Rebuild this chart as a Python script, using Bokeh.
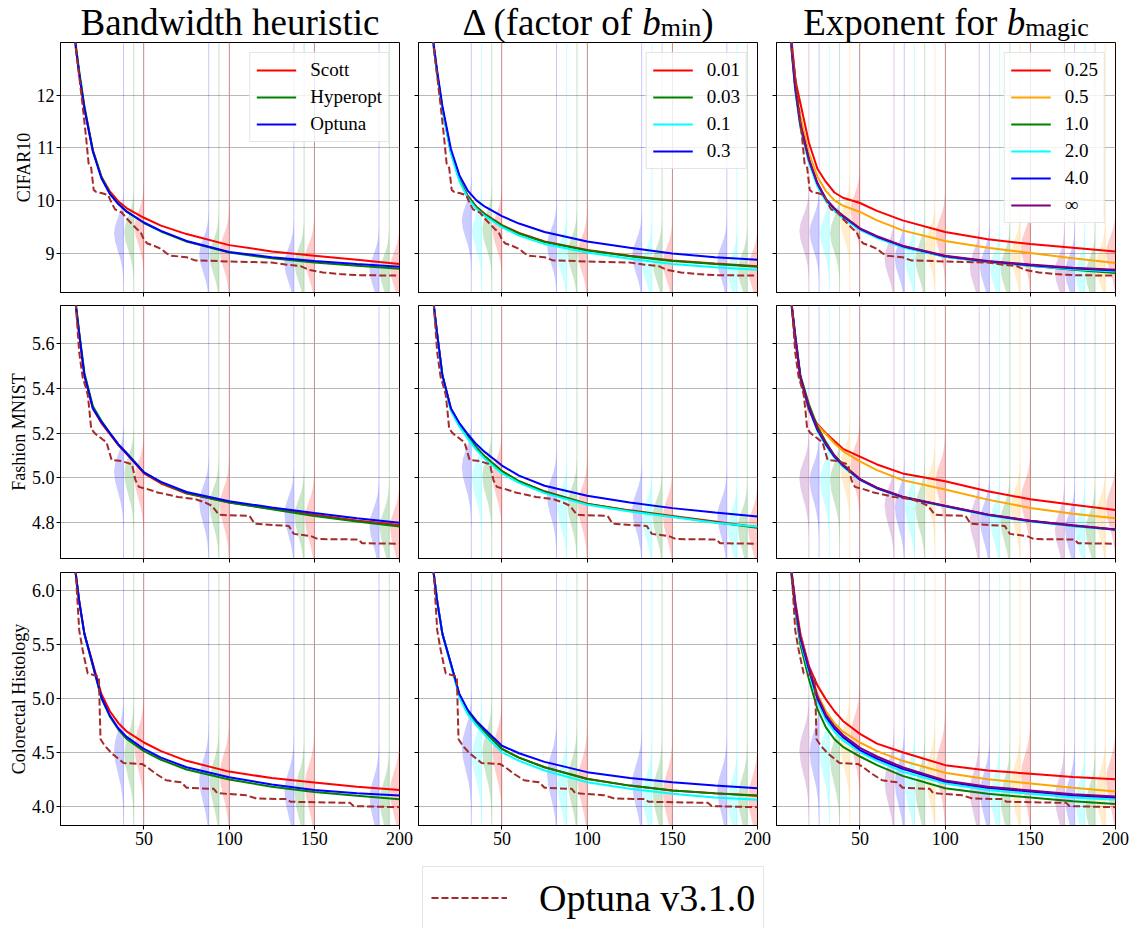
from bokeh.plotting import figure
from bokeh.models import FixedTicker, Legend, LegendItem, Range1d
from bokeh.layouts import column, row
from bokeh.embed import file_html
from bokeh.resources import INLINE
from bokeh.core.properties import value

FONT = "Liberation Serif"

# ---------------- data ----------------
trials = [5, 8, 10, 12, 15, 20, 25, 30, 35, 40, 50, 60, 75, 100, 125, 150, 175, 200]
checkpoints = [50, 100, 150, 200]
x_ticks = [50, 100, 150, 200]
x_tick_labels = ["50", "100", "150", "200"]

datasets = ["CIFAR10", "Fashion MNIST", "Colorectal Histology"]
y_limits = [(8.25, 13.0), (4.64, 5.77), (3.82, 6.167)]
y_ticks = [[9, 10, 11, 12], [4.8, 5.0, 5.2, 5.4, 5.6], [4.0, 4.5, 5.0, 5.5, 6.0]]
y_tick_labels = [["9", "10", "11", "12"], ["4.8", "5.0", "5.2", "5.4", "5.6"],
                 ["4.0", "4.5", "5.0", "5.5", "6.0"]]

bandwidth_labels = ["Scott", "Hyperopt", "Optuna"]
delta_labels = ["0.01", "0.03", "0.1", "0.3"]
exponent_labels = ["0.25", "0.5", "1.0", "2.0", "4.0", "∞"]
bandwidth_colors = ["red", "green", "blue"]
delta_colors = ["red", "green", "cyan", "blue"]
exponent_colors = ["red", "orange", "green", "cyan", "blue", "purple"]

# column titles: (text, size, style, is_subscript) pieces
title_bandwidth = [("Bandwidth heuristic", "37px", "normal", False)]
title_delta = [("Δ (factor of", "37px", "normal", False), ("b", "37px", "italic", False),
               ("min", "26px", "normal", True), (")", "37px", "normal", False)]
title_exponent = [("Exponent for", "37px", "normal", False), ("b", "37px", "italic", False),
                  ("magic", "26px", "normal", True)]

# mean curves (legend order)
cifar_bandwidth = [
    [16.5, 14.0, 12.9, 12.4, 11.75, 10.95, 10.45, 10.17, 9.98, 9.85, 9.67, 9.52, 9.36, 9.15, 9.03, 8.95, 8.87, 8.79],
    [16.5, 14.0, 12.95, 12.45, 11.8, 10.95, 10.45, 10.13, 9.93, 9.79, 9.57, 9.41, 9.22, 9.01, 8.90, 8.82, 8.76, 8.70],
    [16.5, 14.0, 12.9, 12.4, 11.75, 10.93, 10.42, 10.12, 9.93, 9.78, 9.58, 9.42, 9.23, 9.02, 8.92, 8.85, 8.79, 8.74],
]
cifar_delta = [
    [16.5, 14.0, 12.9, 12.4, 11.75, 10.92, 10.40, 10.08, 9.88, 9.74, 9.53, 9.38, 9.22, 9.06, 8.95, 8.86, 8.80, 8.75],
    [16.5, 14.0, 12.9, 12.4, 11.75, 10.92, 10.40, 10.07, 9.87, 9.73, 9.52, 9.37, 9.21, 9.05, 8.94, 8.85, 8.79, 8.74],
    [16.5, 14.0, 12.9, 12.4, 11.73, 10.90, 10.37, 10.04, 9.84, 9.70, 9.49, 9.33, 9.17, 9.01, 8.89, 8.79, 8.73, 8.68],
    [16.5, 14.0, 12.95, 12.45, 11.8, 10.98, 10.48, 10.18, 10.00, 9.88, 9.70, 9.56, 9.40, 9.22, 9.10, 8.99, 8.92, 8.87],
]
cifar_exponent = [
    [16.5, 14.2, 13.0, 12.3, 11.85, 11.1, 10.6, 10.35, 10.15, 10.05, 9.95, 9.80, 9.62, 9.40, 9.26, 9.17, 9.10, 9.03],
    [16.5, 14.0, 12.9, 12.2, 11.6, 10.9, 10.45, 10.18, 10.0, 9.9, 9.78, 9.62, 9.43, 9.23, 9.10, 9.0, 8.90, 8.81],
    [16.5, 14.0, 12.8, 12.1, 11.4, 10.75, 10.3, 10.0, 9.82, 9.68, 9.45, 9.30, 9.12, 8.93, 8.83, 8.76, 8.68, 8.62],
    [16.5, 14.0, 12.8, 12.1, 11.4, 10.72, 10.27, 9.98, 9.80, 9.66, 9.44, 9.29, 9.11, 8.93, 8.83, 8.76, 8.69, 8.65],
    [16.5, 14.0, 12.85, 12.15, 11.45, 10.78, 10.32, 10.02, 9.84, 9.70, 9.46, 9.31, 9.13, 8.94, 8.84, 8.77, 8.71, 8.67],
    [16.5, 14.0, 12.85, 12.15, 11.45, 10.78, 10.33, 10.03, 9.85, 9.71, 9.47, 9.32, 9.14, 8.95, 8.85, 8.78, 8.72, 8.68],
]
fashion_bandwidth = [
    [6.5, 6.0, 5.77, 5.64, 5.46, 5.31, 5.245, 5.195, 5.145, 5.105, 5.02, 4.975, 4.93, 4.89, 4.862, 4.835, 4.81, 4.79],
    [6.5, 6.0, 5.78, 5.65, 5.47, 5.32, 5.255, 5.20, 5.15, 5.11, 5.025, 4.98, 4.932, 4.89, 4.86, 4.83, 4.805, 4.783],
    [6.5, 6.0, 5.77, 5.64, 5.46, 5.31, 5.25, 5.20, 5.15, 5.108, 5.025, 4.982, 4.937, 4.896, 4.868, 4.843, 4.82, 4.80],
]
fashion_delta = [
    [6.5, 6.0, 5.77, 5.64, 5.46, 5.31, 5.24, 5.185, 5.135, 5.095, 5.03, 4.985, 4.94, 4.885, 4.855, 4.83, 4.805, 4.78],
    [6.5, 6.0, 5.77, 5.64, 5.46, 5.31, 5.24, 5.185, 5.135, 5.095, 5.03, 4.985, 4.938, 4.884, 4.853, 4.828, 4.802, 4.777],
    [6.5, 6.0, 5.77, 5.63, 5.45, 5.30, 5.23, 5.175, 5.125, 5.085, 5.02, 4.978, 4.932, 4.88, 4.85, 4.825, 4.80, 4.782],
    [6.5, 6.0, 5.77, 5.64, 5.46, 5.31, 5.245, 5.195, 5.15, 5.115, 5.055, 5.01, 4.965, 4.92, 4.89, 4.865, 4.845, 4.828],
]
fashion_exponent = [
    [6.5, 6.0, 5.76, 5.62, 5.45, 5.30, 5.24, 5.20, 5.165, 5.13, 5.095, 5.06, 5.02, 4.985, 4.94, 4.905, 4.88, 4.857],
    [6.5, 6.0, 5.76, 5.62, 5.45, 5.30, 5.235, 5.195, 5.155, 5.12, 5.074, 5.035, 4.99, 4.948, 4.903, 4.866, 4.84, 4.82],
    [6.5, 6.0, 5.77, 5.64, 5.46, 5.33, 5.23, 5.16, 5.10, 5.06, 4.995, 4.955, 4.915, 4.875, 4.835, 4.807, 4.785, 4.768],
    [6.5, 6.0, 5.76, 5.62, 5.44, 5.31, 5.21, 5.145, 5.09, 5.05, 4.99, 4.952, 4.912, 4.872, 4.833, 4.805, 4.785, 4.768],
    [6.5, 6.0, 5.76, 5.63, 5.45, 5.31, 5.215, 5.15, 5.095, 5.055, 4.992, 4.954, 4.914, 4.874, 4.835, 4.807, 4.787, 4.77],
    [6.5, 6.0, 5.77, 5.63, 5.45, 5.32, 5.22, 5.155, 5.10, 5.058, 4.995, 4.956, 4.916, 4.876, 4.837, 4.809, 4.788, 4.77],
]
colorectal_bandwidth = [
    [7.6, 6.6, 6.15, 5.9, 5.6, 5.32, 5.04, 4.88, 4.77, 4.69, 4.59, 4.51, 4.42, 4.32, 4.26, 4.22, 4.18, 4.15],
    [7.6, 6.6, 6.15, 5.9, 5.6, 5.30, 5.00, 4.83, 4.71, 4.62, 4.51, 4.43, 4.34, 4.247, 4.18, 4.13, 4.095, 4.064],
    [7.6, 6.6, 6.15, 5.9, 5.6, 5.31, 5.01, 4.84, 4.72, 4.64, 4.53, 4.45, 4.36, 4.268, 4.20, 4.15, 4.12, 4.098],
]
colorectal_delta = [
    [7.6, 6.6, 6.15, 5.9, 5.6, 5.32, 5.03, 4.87, 4.77, 4.69, 4.53, 4.45, 4.36, 4.253, 4.19, 4.145, 4.12, 4.098],
    [7.6, 6.6, 6.15, 5.9, 5.6, 5.32, 5.03, 4.87, 4.77, 4.69, 4.53, 4.45, 4.36, 4.252, 4.19, 4.144, 4.118, 4.096],
    [7.6, 6.6, 6.15, 5.9, 5.6, 5.31, 5.01, 4.85, 4.75, 4.66, 4.50, 4.42, 4.33, 4.222, 4.16, 4.114, 4.08, 4.058],
    [7.6, 6.6, 6.15, 5.9, 5.6, 5.32, 5.04, 4.89, 4.79, 4.71, 4.56, 4.49, 4.41, 4.315, 4.26, 4.222, 4.19, 4.166],
]
colorectal_exponent = [
    [7.6, 6.6, 6.15, 5.9, 5.6, 5.30, 5.12, 4.99, 4.88, 4.79, 4.67, 4.58, 4.50, 4.38, 4.33, 4.30, 4.27, 4.25],
    [7.6, 6.6, 6.15, 5.9, 5.6, 5.28, 5.04, 4.88, 4.77, 4.69, 4.59, 4.51, 4.42, 4.31, 4.25, 4.21, 4.17, 4.135],
    [7.6, 6.6, 6.10, 5.82, 5.5, 5.18, 4.90, 4.73, 4.62, 4.55, 4.46, 4.38, 4.28, 4.165, 4.115, 4.08, 4.045, 4.02],
    [7.6, 6.6, 6.12, 5.85, 5.54, 5.24, 4.97, 4.80, 4.69, 4.61, 4.50, 4.42, 4.32, 4.21, 4.15, 4.114, 4.08, 4.058],
    [7.6, 6.6, 6.14, 5.87, 5.56, 5.27, 5.00, 4.83, 4.72, 4.64, 4.52, 4.44, 4.345, 4.228, 4.17, 4.135, 4.10, 4.08],
    [7.6, 6.6, 6.15, 5.88, 5.58, 5.29, 5.02, 4.85, 4.74, 4.66, 4.54, 4.46, 4.36, 4.237, 4.18, 4.145, 4.11, 4.089],
]

# Optuna v3.1.0 baseline (dashed), one per dataset
cifar_optuna_x = [5, 8, 10, 12, 14, 16, 17.5, 19, 20.5, 22, 25, 29, 31, 33, 37, 40, 43, 46, 48, 50, 52, 55, 60, 63, 66, 75, 80, 100, 125, 133, 142, 147, 155, 165, 175, 200]
cifar_optuna_y = [16.5, 14.0, 12.9, 12.35, 11.8, 11.2, 10.7, 10.62, 10.2, 10.16, 10.14, 10.1, 9.95, 9.83, 9.77, 9.65, 9.55, 9.45, 9.40, 9.25, 9.18, 9.15, 9.08, 9.0, 8.95, 8.92, 8.86, 8.84, 8.82, 8.78, 8.75, 8.68, 8.63, 8.60, 8.58, 8.57]
fashion_optuna_x = [5, 8, 10, 12, 14, 16, 17, 18, 19, 21, 26, 28, 31, 37, 43, 45, 47, 52, 58, 70, 80, 86, 90, 94, 112, 115, 135, 138, 148, 152, 176, 178, 200]
fashion_optuna_y = [6.5, 6.0, 5.77, 5.56, 5.45, 5.40, 5.37, 5.30, 5.22, 5.20, 5.17, 5.16, 5.08, 5.075, 5.06, 4.99, 4.96, 4.95, 4.935, 4.915, 4.905, 4.89, 4.875, 4.835, 4.83, 4.795, 4.785, 4.75, 4.74, 4.727, 4.725, 4.708, 4.706]
colorectal_optuna_x = [5, 8, 10, 12, 14, 16, 17, 22, 23.5, 24.5, 27, 31, 35, 38, 49, 52, 57, 63, 72, 75, 91, 93, 110, 116, 134, 136, 171, 173, 200]
colorectal_optuna_y = [7.6, 6.6, 6.15, 5.63, 5.45, 5.3, 5.23, 5.21, 5.2, 4.62, 4.56, 4.49, 4.44, 4.40, 4.39, 4.36, 4.30, 4.24, 4.22, 4.17, 4.16, 4.12, 4.10, 4.07, 4.065, 4.04, 4.03, 4.0, 3.99]

# half-violin peaks at the checkpoints (per method, legend order)
cifar_bandwidth_peaks = [[9.50, 9.05, 8.88, 8.72], [9.40, 8.95, 8.80, 8.65], [9.38, 8.98, 8.80, 8.68]]
cifar_delta_peaks = [[9.45, 9.00, 8.82, 8.70], [9.45, 9.00, 8.82, 8.68], [9.42, 8.97, 8.78, 8.65], [9.62, 9.15, 8.95, 8.85]]
cifar_exponent_peaks = [[9.82, 9.35, 9.12, 9.00], [9.62, 9.15, 8.95, 8.78], [9.38, 8.88, 8.72, 8.60],
                        [9.38, 8.88, 8.72, 8.62], [9.40, 8.90, 8.74, 8.64], [9.42, 8.90, 8.74, 8.65]]
fashion_bandwidth_peaks = [[5.00, 4.88, 4.82, 4.78], [5.02, 4.88, 4.83, 4.78], [5.03, 4.89, 4.84, 4.79]]
fashion_delta_peaks = [[5.01, 4.88, 4.83, 4.78], [5.01, 4.88, 4.83, 4.78], [5.00, 4.87, 4.82, 4.78], [5.05, 4.92, 4.86, 4.83]]
fashion_exponent_peaks = [[5.06, 4.99, 4.91, 4.87], [5.05, 4.95, 4.87, 4.83], [4.99, 4.87, 4.81, 4.77],
                          [4.99, 4.87, 4.81, 4.77], [4.99, 4.87, 4.81, 4.77], [5.00, 4.88, 4.81, 4.77]]
colorectal_bandwidth_peaks = [[4.55, 4.30, 4.20, 4.14], [4.48, 4.23, 4.12, 4.05], [4.52, 4.25, 4.14, 4.08]]
colorectal_delta_peaks = [[4.50, 4.24, 4.13, 4.08], [4.50, 4.24, 4.13, 4.08], [4.47, 4.20, 4.10, 4.05], [4.55, 4.30, 4.21, 4.15]]
colorectal_exponent_peaks = [[4.65, 4.37, 4.29, 4.24], [4.57, 4.28, 4.20, 4.13], [4.43, 4.15, 4.07, 4.01],
                             [4.48, 4.20, 4.10, 4.05], [4.50, 4.22, 4.13, 4.07], [4.52, 4.23, 4.14, 4.08]]
violin_spread_up = [0.28, 0.07, 0.17]
violin_spread_down = [0.33, 0.09, 0.21]
violin_offsets = [-3, -2.5, -2, -1.5, -1, -0.5, 0, 0.5, 1, 1.5, 2, 2.5, 3]
violin_profile = [0.011, 0.044, 0.135, 0.325, 0.607, 0.882, 1.0, 0.882, 0.607, 0.325, 0.135, 0.044, 0.011]

# ---------------- layout / styling ----------------
panel_curves = [[cifar_bandwidth, cifar_delta, cifar_exponent],
                [fashion_bandwidth, fashion_delta, fashion_exponent],
                [colorectal_bandwidth, colorectal_delta, colorectal_exponent]]
panel_peaks = [[cifar_bandwidth_peaks, cifar_delta_peaks, cifar_exponent_peaks],
               [fashion_bandwidth_peaks, fashion_delta_peaks, fashion_exponent_peaks],
               [colorectal_bandwidth_peaks, colorectal_delta_peaks, colorectal_exponent_peaks]]
optuna_x = [cifar_optuna_x, fashion_optuna_x, colorectal_optuna_x]
optuna_y = [cifar_optuna_y, fashion_optuna_y, colorectal_optuna_y]
col_labels = [bandwidth_labels, delta_labels, exponent_labels]
col_colors = [bandwidth_colors, delta_colors, exponent_colors]
col_titles = [title_bandwidth, title_delta, title_exponent]

FRAME_W = 339
FRAME_H = [250, 253, 253]
B_LEFT = [60, 5, 5]
B_RIGHT = [14, 14, 14]
B_TOP = [0, 8, 8]
B_BOTTOM = [5, 6, 25]
HEADER_H = 42
VIOLIN_STEP = 6
VIOLIN_HALF = 5.6
OPTUNA_COLOR = "#a52a2a"
TOTAL_W = sum(B_LEFT) + sum(B_RIGHT) + 3 * FRAME_W

figs = []
for r in range(3):
    row_figs = []
    for c in range(3):
        p = figure(width=B_LEFT[c] + FRAME_W + B_RIGHT[c], height=B_TOP[r] + FRAME_H[r] + B_BOTTOM[r],
                   x_range=Range1d(1, 200), y_range=Range1d(*y_limits[r]),
                   output_backend="svg", toolbar_location=None, title=None,
                   min_border_left=B_LEFT[c], min_border_right=B_RIGHT[c],
                   min_border_top=B_TOP[r], min_border_bottom=B_BOTTOM[r])
        p.outline_line_color = "black"
        p.outline_line_width = 1
        p.outline_line_alpha = 1
        p.background_fill_color = "white"
        p.border_fill_color = "white"
        for ax, ticks, labels, show in ((p.xaxis, x_ticks, x_tick_labels, r == 2),
                                        (p.yaxis, y_ticks[r], y_tick_labels[r], c == 0)):
            ax.ticker = FixedTicker(ticks=ticks, minor_ticks=[])
            ax.major_tick_out = 4
            ax.major_tick_in = 0
            ax.minor_tick_out = 0
            ax.minor_tick_in = 0
            ax.major_tick_line_color = "black"
            ax.axis_line_color = "black"
            ax.major_label_text_font = FONT
            ax.major_label_text_color = "black"
            if show:
                ax.major_label_standoff = 2
                ax.major_label_text_font_size = "18px"
                ax.major_label_overrides = {t: l for t, l in zip(ticks, labels)}
            else:
                ax.major_label_standoff = 0
                ax.major_label_text_font_size = "0px"
                ax.major_label_overrides = {t: "" for t in ticks}
        if c == 0:
            p.yaxis.axis_label = datasets[r]
            p.yaxis.axis_label_text_font = FONT
            p.yaxis.axis_label_text_font_size = "18px"
            p.yaxis.axis_label_text_font_style = "normal"
            p.yaxis.axis_label_text_color = "black"
            p.yaxis.axis_label_standoff = 0
        for g in (p.xgrid, p.ygrid):
            g.grid_line_color = "#b0b0b0"
            g.grid_line_width = 1
            g.grid_line_alpha = 0.9
        p.xgrid.ticker = FixedTicker(ticks=x_ticks)
        p.ygrid.ticker = FixedTicker(ticks=y_ticks[r])

        labels = col_labels[c]
        colors = col_colors[c]
        peaks = panel_peaks[r][c]
        ymin, ymax = y_limits[r]
        # half violins + vertical lines
        for i, color in enumerate(colors):
            xs_list, ys_list, vx = [], [], []
            for k, cp in enumerate(checkpoints):
                xl = cp - VIOLIN_STEP * i
                pk = peaks[i][k]
                xs = [xl]
                ys = [pk + violin_offsets[0] * violin_spread_down[r]]
                for o, w in zip(violin_offsets, violin_profile):
                    sd = violin_spread_up[r] if o > 0 else violin_spread_down[r]
                    xs.append(xl - VIOLIN_HALF * w)
                    ys.append(pk + o * sd)
                xs.append(xl)
                ys.append(pk + violin_offsets[-1] * violin_spread_up[r])
                xs_list.append(xs)
                ys_list.append(ys)
                vx.append(xl)
            p.patches(xs_list, ys_list, fill_color=color, fill_alpha=0.2, line_color=None)
            p.segment(x0=vx, y0=[ymin - 5] * len(vx), x1=vx, y1=[ymax + 5] * len(vx),
                      line_color=color, line_alpha=0.22, line_width=1)
        # mean curves
        items = []
        for i, (label, color) in enumerate(zip(labels, colors)):
            rr = p.line(trials, panel_curves[r][c][i], line_color=color, line_width=2)
            items.append(LegendItem(label=label, renderers=[rr]))
        p.line(optuna_x[r], optuna_y[r], line_color=OPTUNA_COLOR, line_width=2, line_dash="7 3")
        if r == 0:
            lg = Legend(items=items, location="top_right")
            lg.label_text_font = FONT
            lg.label_text_font_size = "19px"
            lg.label_text_color = "black"
            lg.glyph_width = 40
            lg.glyph_height = 20
            lg.label_height = 20
            lg.spacing = 5
            lg.padding = 6
            lg.margin = 10
            lg.label_standoff = 14
            lg.border_line_color = "#cccccc"
            lg.border_line_width = 1
            lg.background_fill_alpha = 0.8
            p.add_layout(lg)
        row_figs.append(p)
    figs.append(row_figs)

# header strip with the column titles (pixel coordinates, y downward)
hdr = figure(width=TOTAL_W, height=HEADER_H, x_range=Range1d(0, TOTAL_W), y_range=Range1d(HEADER_H, 0),
             output_backend="svg", toolbar_location=None, title=None,
             x_axis_type=None, y_axis_type=None, min_border=0,
             min_border_left=0, min_border_right=0, min_border_top=0, min_border_bottom=0)
hdr.outline_line_color = None
hdr.xgrid.visible = False
hdr.ygrid.visible = False
EM = {"B": .667, "a": .444, "n": .5, "d": .5, "w": .722, "i": .278, "t": .278, "h": .5, " ": .25,
      "e": .444, "u": .5, "r": .333, "s": .389, "c": .444, "Δ": .612, "(": .333, ")": .333,
      "f": .333, "o": .5, "b": .5, "m": .778, "E": .611, "x": .5, "p": .5, "g": .5}
MAIN_BASE, SUB_BASE = 34.0, 36.0
frame_left = B_LEFT[0]
for c in range(3):
    center = frame_left + FRAME_W / 2
    pieces = col_titles[c]
    widths = []
    for text, size, style, sub in pieces:
        px = float(size[:-2])
        extra = 0.25 * px if text.endswith("of") or text.endswith("for") else 0
        widths.append(sum(EM.get(ch, .5) for ch in text) * px + extra)
    x = center - sum(widths) / 2
    for (text, size, style, sub), w in zip(pieces, widths):
        px = float(size[:-2])
        base = SUB_BASE if sub else MAIN_BASE
        hdr.text(x=[x], y=[base - 0.3375 * px], text=[text], text_align="left",
                 text_baseline="middle", text_font=value(FONT), text_font_size=value(size),
                 text_font_style=style, text_color="black")
        x += w
    frame_left += FRAME_W + B_RIGHT[c] + (B_LEFT[c + 1] if c < 2 else 0)

# bottom legend
lf = figure(width=TOTAL_W, height=78, x_range=Range1d(0, 1), y_range=Range1d(0, 1),
            output_backend="svg", toolbar_location=None, title=None,
            x_axis_type=None, y_axis_type=None, min_border=0,
            min_border_left=0, min_border_right=0, min_border_top=0, min_border_bottom=0)
lf.outline_line_color = None
lf.xgrid.visible = False
lf.ygrid.visible = False
dummy = lf.line([-5, -4], [-5, -5], line_color=OPTUNA_COLOR, line_width=2, line_dash="7 3")
blg = Legend(items=[LegendItem(label="Optuna v3.1.0", renderers=[dummy])], location=(422, -1))
blg.label_text_font = FONT
blg.label_text_font_size = "38px"
blg.label_text_color = "black"
blg.glyph_width = 76
blg.glyph_height = 45
blg.label_height = 45
blg.padding = 8
blg.label_standoff = 32
blg.border_line_color = "#cccccc"
blg.border_line_width = 1
lf.add_layout(blg)

layout = column(hdr, *[row(*rf) for rf in figs], lf)
open("out.html", "w").write(file_html(layout, INLINE))
